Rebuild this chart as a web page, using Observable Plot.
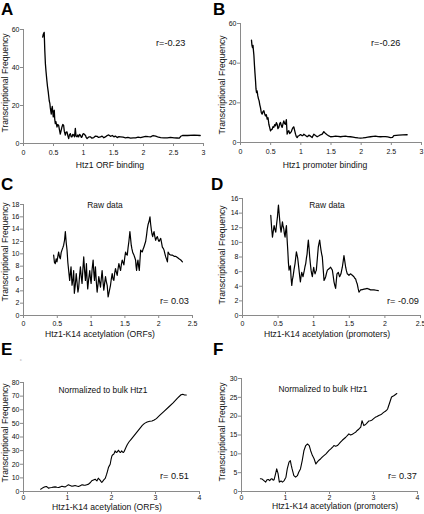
<!DOCTYPE html>
<html><head><meta charset="utf-8">
<script src="https://cdn.jsdelivr.net/npm/d3@7"></script>
<script src="https://cdn.jsdelivr.net/npm/@observablehq/plot@0.6"></script>
<style>
html,body{margin:0;padding:0;background:#fff;}
#root{position:relative;width:424px;height:514px;overflow:hidden;font-family:"Liberation Sans",Arial,Helvetica,sans-serif;}
#root svg{position:absolute;overflow:visible;}
</style></head><body><div id="root"></div>
<script>
// ---------- data ----------
const aX = [0.32,0.33,0.345,0.355,0.365,0.375,0.39,0.40,0.413,0.42,0.429,0.44,0.446,0.455,0.463,0.47,0.48,0.49,0.496,0.505,0.513,0.52,0.53,0.54,0.558,0.57,0.586,0.60,0.613,0.625,0.641,0.655,0.669,0.68,0.697,0.71,0.725,0.74,0.753,0.765,0.781,0.795,0.809,0.82,0.837,0.85,0.864,0.875,0.892,0.905,0.92,0.935,0.948,0.965,0.976,0.99,1.004,1.02,1.032,1.045,1.06,1.09,1.115,1.14,1.171,1.20,1.227,1.25,1.283,1.31,1.339,1.37,1.394,1.42,1.45,1.48,1.506,1.53,1.562,1.59,1.617,1.66,1.701,1.74,1.785,1.83,1.868,1.91,1.952,2.00,2.036,2.08,2.119,2.16,2.203,2.25,2.287,2.34,2.398,2.45,2.51,2.56,2.593,2.61,2.621,2.649,2.733,2.844,2.945];
const aY = [56,57.5,58.5,49,42,38,33,30,27,25,22.5,21,19,17,15.5,18,19.5,16,14,17,17.5,13,10.5,11.5,8.7,10,9.5,7,5,6.5,8.7,10,9.5,6.5,4.4,6,6.1,4,2.6,4.5,5.2,3.5,3.5,4.8,4.4,3.5,8,4,3.5,4.5,3.5,4.8,4.4,3.2,3.5,5,5.2,4.5,4.4,3.2,2.6,3.5,3.5,2.8,3.1,3.9,3.8,3.2,3.5,3.9,3.0,3.6,4.2,4.5,3.8,4.2,3.5,3.9,3.1,3.6,3.5,3.3,3.0,3.2,2.8,3.0,3.0,3.3,3.1,3.5,3.8,3.6,3.5,4.2,3.9,3.3,3.1,3.0,3.0,3.2,3.0,2.9,2.8,3.3,3.8,4.2,4.2,4.4,4.2];

const bX = [0.182,0.19,0.199,0.207,0.215,0.222,0.232,0.24,0.249,0.257,0.265,0.275,0.287,0.298,0.309,0.32,0.331,0.345,0.359,0.372,0.387,0.40,0.414,0.428,0.442,0.456,0.470,0.484,0.497,0.511,0.525,0.538,0.552,0.566,0.580,0.594,0.608,0.62,0.635,0.65,0.663,0.677,0.691,0.705,0.718,0.732,0.746,0.76,0.773,0.787,0.801,0.815,0.829,0.843,0.856,0.87,0.884,0.898,0.912,0.925,0.939,0.953,0.967,0.995,1.022,1.036,1.050,1.078,1.105,1.12,1.133,1.16,1.188,1.20,1.215,1.243,1.271,1.30,1.326,1.355,1.381,1.41,1.436,1.465,1.492,1.53,1.575,1.615,1.657,1.70,1.740,1.78,1.823,1.865,1.906,1.95,1.989,2.03,2.072,2.11,2.155,2.20,2.238,2.28,2.320,2.36,2.403,2.44,2.486,2.52,2.541,2.58,2.624,2.69,2.762];
const bY = [51.6,49,47.9,49,46.2,44,38.7,35,31.1,27,25.2,26,23.5,22,21,19,17.6,15,14.3,15.5,16,14.5,13.4,14,11.8,12.5,9.2,7.5,5.9,6.5,6.7,8,7.6,9,8.4,10,9.2,7,7.6,9.5,10.1,8.5,7.6,9.5,10.9,9.5,9.2,11.5,4.2,5.5,5.9,4.5,5.0,5.5,6.7,7.5,7.9,6,4.2,3,2.5,3.2,3.4,4,3.4,3.6,4.2,3.5,2.9,3.2,3.7,3.2,2.5,3.3,4.2,3.5,2.9,3.4,3.9,4.2,5.5,4.5,3.9,3.3,2.9,3.0,3.2,3.1,2.9,3.1,3.2,3.0,2.9,2.7,2.5,2.3,2.2,2.3,2.5,2.7,2.9,3.1,3.2,3.0,2.9,3.0,3.0,2.8,2.5,2.6,3.5,3.6,3.7,3.8,3.9];

const cX = [0.446,0.458,0.470,0.483,0.495,0.508,0.520,0.533,0.545,0.557,0.569,0.582,0.594,0.607,0.619,0.632,0.644,0.656,0.668,0.683,0.693,0.703,0.718,0.733,0.742,0.752,0.767,0.78,0.792,0.805,0.817,0.83,0.842,0.855,0.866,0.879,0.891,0.904,0.916,0.931,0.940,0.950,0.965,0.980,0.990,1.000,1.015,1.030,1.040,1.050,1.064,1.077,1.089,1.102,1.114,1.127,1.139,1.151,1.163,1.176,1.188,1.200,1.213,1.225,1.238,1.252,1.270,1.287,1.30,1.312,1.325,1.337,1.349,1.361,1.374,1.386,1.399,1.411,1.424,1.436,1.448,1.460,1.473,1.485,1.498,1.510,1.522,1.535,1.547,1.559,1.574,1.584,1.594,1.604,1.614,1.624,1.634,1.646,1.658,1.665,1.673,1.683,1.693,1.703,1.713,1.723,1.733,1.745,1.757,1.770,1.782,1.795,1.807,1.820,1.832,1.844,1.856,1.864,1.871,1.881,1.891,1.901,1.911,1.921,1.931,1.943,1.955,1.968,1.980,1.993,2.005,2.018,2.030,2.042,2.054,2.067,2.079,2.092,2.104,2.117,2.129,2.134,2.139,2.16,2.178,2.20,2.228,2.25,2.277,2.30,2.327,2.351];
const cY = [9.8,8.6,8.4,9.2,8.7,9.6,10.3,9.5,9.2,10.2,10.6,11.0,11.4,12.2,13.6,11.8,10.6,8.6,7.3,5.7,6.8,7.9,4.9,6.0,7.3,3.6,5.0,6.8,5.4,3.8,4.6,6.5,7.9,6.2,5.2,7.6,9.5,7.2,5.7,8.4,6.0,4.3,6.0,7.3,6.0,5.2,7.5,9.0,7.0,5.7,7.9,5.5,3.8,5.0,6.3,5.4,4.6,6.0,7.3,5.5,4.1,5.2,6.3,5.5,4.9,3.0,4.0,4.9,6.0,6.8,5.9,5.7,6.9,7.6,7.0,6.5,7.6,8.4,7.8,7.3,8.3,9.0,8.6,8.2,9.4,10.3,9.9,9.8,11.0,12.0,13.6,12.5,11.4,10.8,10.3,10.0,9.8,9.4,9.0,8.0,7.3,8.4,9.0,8.0,7.3,9.0,10.6,10.4,10.3,10.8,11.1,11.6,12.0,13.0,14.1,14.8,15.2,15.6,16.0,14.8,13.9,13.2,12.8,13.3,13.6,12.8,12.2,12.6,12.8,12.3,12.0,12.3,12.5,11.8,11.1,10.9,10.6,10.0,9.5,9.1,8.7,9.5,10.3,9.9,9.8,9.8,9.6,9.6,9.4,9.2,9.0,8.7];

const dX = [0.397,0.409,0.421,0.432,0.444,0.455,0.467,0.479,0.491,0.498,0.505,0.514,0.523,0.532,0.542,0.551,0.561,0.570,0.579,0.588,0.598,0.607,0.617,0.626,0.636,0.645,0.654,0.664,0.673,0.682,0.692,0.701,0.710,0.724,0.738,0.747,0.757,0.766,0.776,0.785,0.794,0.804,0.813,0.822,0.832,0.841,0.850,0.860,0.869,0.878,0.888,0.897,0.907,0.916,0.925,0.935,0.944,0.954,0.963,0.972,0.981,0.990,1.000,1.010,1.019,1.028,1.037,1.051,1.065,1.075,1.084,1.093,1.103,1.112,1.121,1.133,1.145,1.156,1.168,1.180,1.192,1.203,1.215,1.227,1.238,1.250,1.262,1.274,1.285,1.297,1.308,1.318,1.327,1.336,1.346,1.355,1.364,1.374,1.383,1.393,1.402,1.414,1.425,1.437,1.449,1.460,1.472,1.484,1.495,1.507,1.519,1.530,1.542,1.554,1.565,1.577,1.589,1.600,1.612,1.624,1.636,1.648,1.659,1.683,1.706,1.729,1.752,1.776,1.799,1.822,1.846,1.876,1.907];
const dY = [13.7,12.0,10.7,11.5,12.3,11.8,11.4,12.5,13.5,14.4,15.1,14.0,13.0,12.0,11.4,12.1,12.8,12.2,11.9,11.2,10.7,11.6,12.3,10.5,8.9,7.2,6.2,6.6,6.8,5.2,4.1,4.9,5.3,6.3,7.1,7.9,8.7,8.3,7.8,7.0,6.2,5.3,4.6,5.3,5.9,5.6,5.3,5.8,6.2,6.7,7.1,7.8,8.4,9.5,10.3,9.2,8.0,7.0,6.2,5.7,5.3,6.0,6.6,6.0,5.7,6.0,6.2,7.8,9.4,9.9,10.3,9.6,8.9,8.4,8.0,6.4,4.8,5.0,5.3,5.8,6.2,6.3,6.4,6.5,6.6,6.4,6.2,5.4,4.6,4.1,3.7,4.8,5.7,5.8,5.9,5.6,5.3,5.5,5.7,6.2,6.6,7.4,8.2,7.4,6.6,6.1,5.7,5.6,5.5,5.6,5.7,5.6,5.5,5.4,5.3,5.1,5.0,4.6,4.3,3.7,3.2,3.35,3.5,3.55,3.6,3.65,3.7,3.6,3.5,3.5,3.5,3.45,3.4];

const eX = [0.39,0.42,0.45,0.49,0.52,0.55,0.57,0.60,0.64,0.68,0.72,0.76,0.80,0.84,0.87,0.91,0.95,0.99,1.02,1.06,1.10,1.14,1.17,1.21,1.25,1.29,1.33,1.37,1.40,1.44,1.48,1.52,1.55,1.59,1.63,1.65,1.67,1.70,1.72,1.74,1.76,1.78,1.80,1.82,1.84,1.86,1.89,1.91,1.93,1.95,1.97,1.99,2.01,2.03,2.05,2.07,2.08,2.10,2.12,2.14,2.16,2.18,2.20,2.22,2.23,2.25,2.27,2.29,2.31,2.33,2.36,2.40,2.45,2.50,2.55,2.60,2.65,2.70,2.75,2.81,2.87,2.92,2.97,3.02,3.10,3.20,3.30,3.40,3.50,3.58,3.62,3.66,3.70];
const eY = [1.7,2.3,2.9,3.5,3.7,3.0,2.4,2.7,2.9,3.2,3.4,3.1,2.9,3.4,3.9,3.6,3.4,4.3,4.9,4.4,3.9,4.1,4.4,4.0,3.7,4.3,4.9,4.7,4.6,5.0,5.4,6.6,7.8,8.4,9.0,8.4,7.8,9.8,9.0,8.3,7.4,6.6,7.5,8.3,9.0,9.8,12.7,15.0,17.6,18.8,20,23.5,26.2,27.0,27.4,28.6,29.8,29.0,28.6,29.5,30.3,29.2,28.6,29.3,29.8,29.0,28.6,29.5,31,32.5,34.5,36.5,38.5,40.5,42.5,44.5,46.5,48.5,50,51,51.5,51.8,52.5,53.5,56,59,62,65,68.5,71,71.3,70.8,70.8];

const fX = [0.43,0.47,0.51,0.55,0.58,0.61,0.64,0.67,0.69,0.72,0.74,0.77,0.80,0.83,0.86,0.90,0.93,0.97,1.01,1.04,1.08,1.11,1.13,1.15,1.19,1.23,1.27,1.30,1.34,1.38,1.42,1.46,1.50,1.54,1.57,1.61,1.65,1.69,1.72,1.76,1.80,1.84,1.88,1.92,1.95,1.99,2.03,2.07,2.10,2.14,2.18,2.22,2.25,2.29,2.33,2.37,2.40,2.44,2.48,2.52,2.56,2.60,2.63,2.67,2.71,2.74,2.78,2.81,2.84,2.87,2.89,2.93,2.97,3.01,3.04,3.08,3.12,3.16,3.19,3.23,3.27,3.30,3.32,3.36,3.41,3.47,3.53];
const fY = [3.4,3.3,2.9,2.5,3.1,3.2,2.9,3.3,3.4,3.0,3.1,4.5,6.0,4.8,2.5,2.8,2.5,2.9,3.8,6.0,7.8,8.2,7.0,6.0,4.2,3.8,4.2,5.1,6.0,8.2,10.9,12.2,12.6,12.2,10.9,9.6,8.7,7.3,7.8,8.3,8.7,9.2,9.6,10.0,10.4,10.9,11.3,11.8,12.2,12.0,12.2,12.7,13.1,13.6,14.0,14.4,14.8,15.3,15.0,15.2,15.5,15.8,16.2,16.6,17.1,18.8,17.5,17.7,18.0,18.4,18.7,18.8,19.0,19.4,19.7,19.9,20.2,20.4,20.6,21.0,21.3,21.6,21.9,23.3,25.1,25.5,26.0];

const ticks03 = [0,0.5,1,1.5,2,2.5,3];
const ticks025 = [0,0.5,1,1.5,2,2.5];
const ticks04 = [0,1,2,3,4];
const yTicksAB = [0,20,40,60];
const yTicksC = [0,2,4,6,8,10,12,14,16,18];
const yTicksD = [0,2,4,6,8,10,12,14,16];
const yTicksE = [0,10,20,30,40,50,60,70,80];
const yTicksF = [0,5,10,15,20,25,30];

const yTitle = "Transcriptional Frequency";
const panelLetters = ["A","B","C","D","E","F"];
const xTitles = ["Htz1 ORF binding","Htz1 promoter binding","Htz1-K14 acetylation (ORFs)","Htz1-K14 acetylation (promoters)","Htz1-K14 acetylation (ORFs)","Htz1-K14 acetylation (promoters)"];
const rLabels = ["r=-0.23","r=-0.26","r= 0.03","r= -0.09","r= 0.51","r= 0.37"];
const subTitles = ["","","Raw data","Raw data","Normalized to bulk Htz1","Normalized to bulk Htz1"];

// ---------- layout ----------
const FONT = '"Liberation Sans", Arial, Helvetica, sans-serif';
const AXIS = "#8a8a8a";
const root = document.getElementById("root");

const panels = [
  {xs:aX, ys:aY, xd:[0,3], xt:ticks03, yd:[0,60], yt:yTicksAB, left:0, top:0, w:212, h:170, ml:23, mr:9, mt:29, mb:27, sw:1.3, tp:4},
  {xs:bX, ys:bY, xd:[0,3], xt:ticks03, yd:[0,60], yt:yTicksAB, left:212, top:0, w:212, h:170, ml:28, mr:3, mt:23, mb:28, sw:1.3, tp:4},
  {xs:cX, ys:cY, xd:[0,2.5], xt:ticks025, yd:[0,18], yt:yTicksC, left:0, top:170, w:212, h:170, ml:23, mr:20, mt:34, mb:25, sw:1.2, tp:3},
  {xs:dX, ys:dY, xd:[0,2.5], xt:ticks025, yd:[0,16], yt:yTicksD, left:212, top:170, w:212, h:170, ml:30, mr:4, mt:28, mb:25, sw:1.2, tp:3},
  {xs:eX, ys:eY, xd:[0,4], xt:ticks04, yd:[0,80], yt:yTicksE, left:0, top:340, w:212, h:174, ml:23, mr:13, mt:42, mb:23, sw:1.1, tp:1},
  {xs:fX, ys:fY, xd:[0,4], xt:ticks04, yd:[0,30], yt:yTicksF, left:212, top:340, w:212, h:174, ml:29, mr:7, mt:38, mb:23, sw:1.1, tp:1}
];

panels.forEach(p => {
  const data = p.xs.map((x, i) => ({x, y: p.ys[i]}));
  const svg = Plot.plot({
    width: p.w, height: p.h,
    marginLeft: p.ml, marginRight: p.mr, marginTop: p.mt, marginBottom: p.mb,
    style: {fontFamily: FONT, fontSize: "7px", color: "#111", background: "transparent", overflow: "visible"},
    x: {domain: p.xd},
    y: {domain: p.yd},
    marks: [
      Plot.axisX(p.xt, {tickSize: 3, tickPadding: p.tp, stroke: AXIS, fill: "#111", label: null, tickFormat: d => String(d), fontSize: 7}),
      Plot.axisY(p.yt, {tickSize: 3, tickPadding: 1, stroke: AXIS, fill: "#111", label: null, tickFormat: d => String(d), fontSize: 7}),
      Plot.ruleY([0], {stroke: AXIS}),
      Plot.ruleX([0], {stroke: AXIS}),
      Plot.line(data, {x: "x", y: "y", stroke: "#000", strokeWidth: p.sw, strokeLinejoin: "round"})
    ]
  });
  svg.style.left = p.left + "px";
  svg.style.top = p.top + "px";
  root.appendChild(svg);
});

// ---------- text overlay ----------
const ov = d3.select(root).append("svg")
  .attr("width", 424).attr("height", 514)
  .style("left", "0px").style("top", "0px")
  .style("font-family", FONT);

const letterPos = [[1,15],[213,15],[1,190],[211,190],[1,355],[213,355]];
const yTitlePos = [[8,83],[224.5,85],[8,252],[225,255],[8,433],[225,432]];
const xTitlePos = [[110,167.5],[325,168],[100,337],[327,337],[107,510],[335,509]];
const rPos = [[156,46],[371,46],[160,304],[387,304],[160,479],[388,479]];
const subPos = [null,null,[105,208],[327,208],[103,393],[323,392]];

panelLetters.forEach((t, i) => {
  ov.append("text").attr("x", letterPos[i][0]).attr("y", letterPos[i][1])
    .attr("font-size", 17).attr("font-weight", "bold").attr("fill", "#000").text(t);
  ov.append("text").attr("transform", `translate(${yTitlePos[i][0]},${yTitlePos[i][1]}) rotate(-90)`)
    .attr("text-anchor", "middle").attr("font-size", 8.6).attr("fill", "#111").text(yTitle);
  ov.append("text").attr("x", xTitlePos[i][0]).attr("y", xTitlePos[i][1])
    .attr("text-anchor", "middle").attr("font-size", 8.6).attr("fill", "#111").text(xTitles[i]);
  ov.append("text").attr("x", rPos[i][0]).attr("y", rPos[i][1])
    .attr("font-size", 9.2).attr("fill", "#111").text(rLabels[i]);
  if (subPos[i]) {
    ov.append("text").attr("x", subPos[i][0]).attr("y", subPos[i][1])
      .attr("text-anchor", "middle").attr("font-size", 8.4).attr("fill", "#111").text(subTitles[i]);
  }
});
ov.append("text").attr("x", 20).attr("y", 361).attr("font-size", 4).attr("fill", "#999").text("c");
</script></body></html>
